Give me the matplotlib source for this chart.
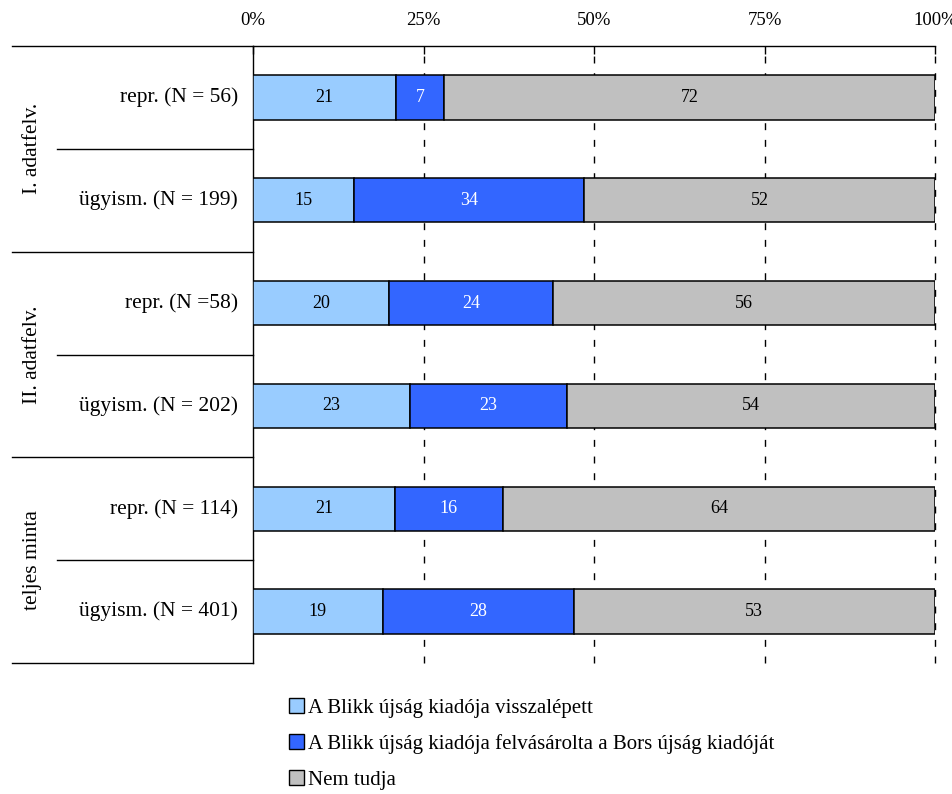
import numpy as np
import matplotlib.pyplot as plt
from matplotlib.patches import Patch

plt.rcParams['font.family'] = ['Liberation Serif', 'DejaVu Serif']

# survey rows, top to bottom
row_labels = ["repr. (N = 56)", "ügyism. (N = 199)", "repr. (N =58)",
              "ügyism. (N = 202)", "repr. (N = 114)", "ügyism. (N = 401)"]
group_labels = ["I. adatfelv.", "II. adatfelv.", "teljes minta"]

series_names = ["A Blikk újság kiadója visszalépett",
                "A Blikk újság kiadója felvásárolta a Bors újság kiadóját",
                "Nem tudja"]
visszalepett = [21, 15, 20, 23, 21, 19]
felvasarolta = [7, 34, 24, 23, 16, 28]
nem_tudja = [72, 52, 56, 54, 64, 53]

colors = ["#99CCFF", "#3366FF", "#C0C0C0"]
text_colors = ["black", "white", "black"]

vals = np.array([visszalepett, felvasarolta, nem_tudja], dtype=float)
totals = vals.sum(axis=0)
shares = vals / totals * 100  # rows are scaled to 100%

fig = plt.figure(figsize=(9.52, 7.94), dpi=100)
ax = fig.add_axes([0.2658, 0.165, 0.7164, 0.777])

y = np.arange(len(row_labels))
left = np.zeros(len(row_labels))
for i in range(3):
    ax.barh(y, shares[i], left=left, height=0.43, color=colors[i],
            edgecolor="black", linewidth=1.1, zorder=3)
    for j in range(len(y)):
        ax.text(left[j] + shares[i][j] / 2, y[j], "%d" % vals[i][j],
                ha="center", va="center", fontsize=13,
                color=text_colors[i], zorder=4)
    left += shares[i]

ax.set_xlim(0, 100)
ax.set_ylim(5.5, -0.5)
ax.set_yticks([])
ax.set_xticks([0, 25, 50, 75, 100])
ax.set_xticklabels(["0%", "25%", "50%", "75%", "100%"])
ax.xaxis.tick_top()
ax.tick_params(axis="x", direction="in", length=6, width=1, pad=12,
               labelsize=13.5)
for s in ["right", "bottom"]:
    ax.spines[s].set_visible(False)
ax.spines["top"].set_linewidth(1)
ax.spines["left"].set_linewidth(1)

for xv in [25, 50, 75, 100]:
    ax.axvline(xv, color="black", linewidth=1, linestyle=(0, (5, 7)),
               zorder=1, clip_on=False)

# row labels and group separators to the left of the axis
trans = ax.get_yaxis_transform()
for j, lab in enumerate(row_labels):
    ax.text(-0.022, y[j], lab, transform=trans, ha="right", va="center",
            fontsize=15.5)

ax.plot([-0.3534, 0], [-0.5, -0.5], transform=trans, color="black",
        linewidth=1, clip_on=False)
for k in range(3):
    ax.plot([-0.2874, 0], [2 * k + 0.5] * 2, transform=trans,
            color="black", linewidth=1, clip_on=False)
    ax.plot([-0.3534, 0], [2 * k + 1.5] * 2, transform=trans,
            color="black", linewidth=1, clip_on=False)
    ax.text(-0.323, 2 * k + 0.5, group_labels[k], transform=trans,
            rotation=90, ha="center", va="center", fontsize=15.5)

handles = [Patch(facecolor=c, edgecolor="black", linewidth=1) for c in colors]
fig.legend(handles, series_names, loc="upper left",
           bbox_to_anchor=(0.295, 0.131), frameon=False, fontsize=15,
           handlelength=0.7, handleheight=0.7, handletextpad=0.2,
           labelspacing=0.78, borderaxespad=0)

fig.savefig("out.png", dpi=100)
